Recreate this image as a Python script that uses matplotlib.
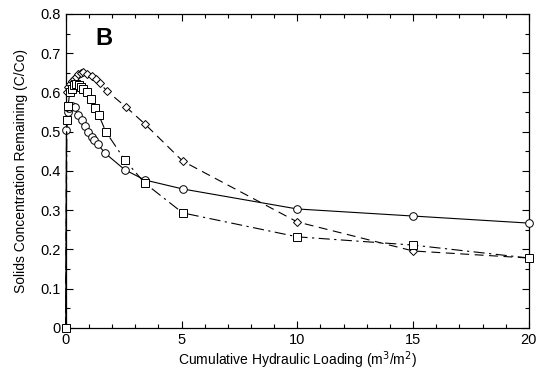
import numpy as np
import matplotlib.pyplot as plt
from matplotlib.ticker import MultipleLocator, FuncFormatter

plt.rcParams['font.family'] = ['Liberation Sans', 'DejaVu Sans']

# column runs: circles (solid), diamonds (dashed), squares (dash-dot)
x_circ = [0, 0.03, 0.08, 0.15, 0.25, 0.39, 0.52, 0.69, 0.82, 0.94, 1.12, 1.21, 1.38, 1.68, 2.55, 3.41, 5.05, 10.0, 15.0, 20.0]
y_circ = [0, 0.505, 0.55, 0.56, 0.566, 0.563, 0.543, 0.53, 0.515, 0.50, 0.487, 0.479, 0.469, 0.446, 0.403, 0.377, 0.354, 0.303, 0.285, 0.267]

x_diam = [0, 0.04, 0.1, 0.18, 0.27, 0.36, 0.45, 0.55, 0.64, 0.73, 0.9, 1.12, 1.29, 1.47, 1.77, 2.6, 3.41, 5.05, 10.0, 15.0, 20.0]
y_diam = [0, 0.60, 0.615, 0.622, 0.628, 0.635, 0.64, 0.646, 0.65, 0.652, 0.647, 0.642, 0.634, 0.624, 0.604, 0.563, 0.52, 0.425, 0.27, 0.196, 0.178]

x_sq = [0, 0.05, 0.1, 0.17, 0.26, 0.36, 0.46, 0.56, 0.66, 0.76, 0.9, 1.08, 1.25, 1.42, 1.73, 2.55, 3.41, 5.05, 10.0, 15.0, 20.0]
y_sq = [0, 0.53, 0.565, 0.60, 0.61, 0.618, 0.622, 0.62, 0.615, 0.61, 0.602, 0.583, 0.56, 0.543, 0.50, 0.428, 0.369, 0.293, 0.232, 0.211, 0.178]

fig = plt.figure(figsize=(5.48, 3.88), dpi=100)
ax = fig.add_axes([0.12, 0.155, 0.845, 0.809])

ax.plot(x_circ, y_circ, color='black', lw=0.8, ls='-', marker='o', ms=5.5,
        mfc='white', mec='black', mew=0.7, clip_on=False, zorder=3)
ax.plot(x_diam, y_diam, color='black', lw=0.8, ls=(0, (8, 5)), marker='D', ms=4.5,
        mfc='white', mec='black', mew=0.7, clip_on=False, zorder=3)
ax.plot(x_sq, y_sq, color='black', lw=0.8, ls=(0, (10, 4, 2, 4)), marker='s', ms=6.2,
        mfc='white', mec='black', mew=0.7, clip_on=False, zorder=3)

ax.set_xlim(0, 20)
ax.set_ylim(0, 0.8)
ax.xaxis.set_major_locator(MultipleLocator(5))
ax.xaxis.set_minor_locator(MultipleLocator(1))
ax.yaxis.set_major_locator(MultipleLocator(0.1))
ax.yaxis.set_minor_locator(MultipleLocator(0.05))
ax.yaxis.set_major_formatter(FuncFormatter(lambda v, p: '0' if abs(v) < 1e-9 else '%.1f' % v))
ax.tick_params(which='both', direction='in', top=True, right=True, labelsize=10.5)
ax.tick_params(which='major', length=5, width=0.8)
ax.tick_params(which='minor', length=3, width=0.8)
for s in ax.spines.values():
    s.set_linewidth(0.9)

ax.set_xlabel('Cumulative Hydraulic Loading (m$^3$/m$^2$)', fontsize=10, labelpad=2)
ax.set_ylabel('Solids Concentration Remaining (C/Co)', fontsize=10, labelpad=9)
ax.text(0.065, 0.9, 'B', transform=ax.transAxes, fontsize=17, fontweight='bold')

fig.savefig('out.png', dpi=100)
